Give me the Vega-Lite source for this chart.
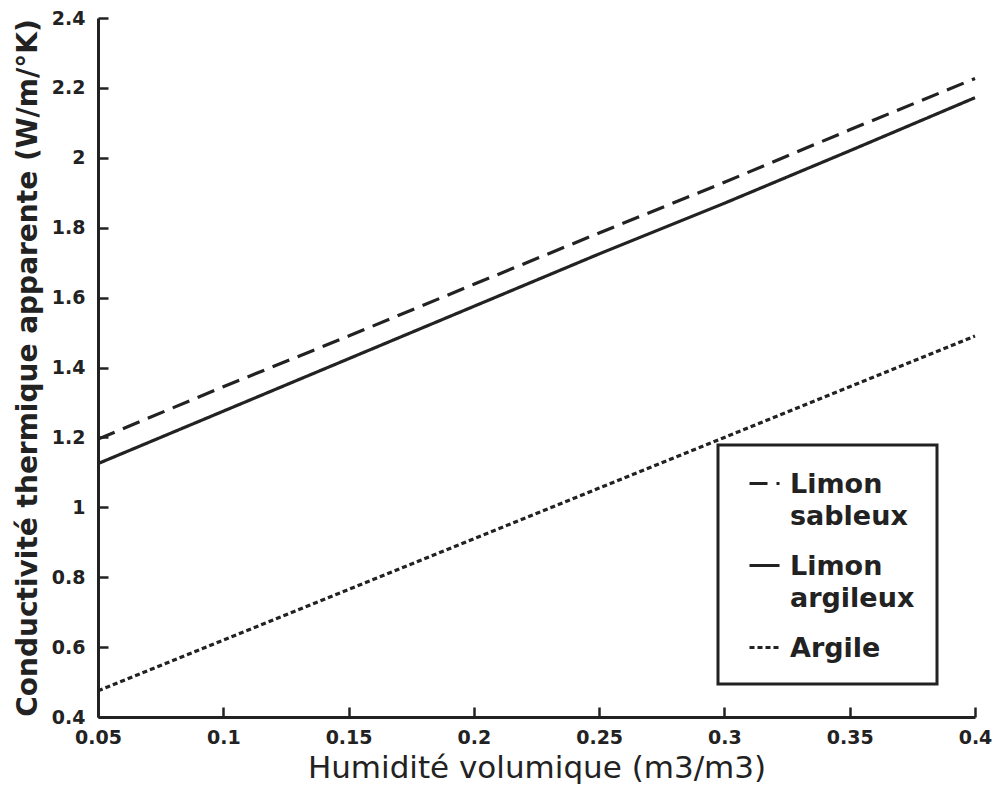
{
  "$schema": "https://vega.github.io/schema/vega-lite/v6.json",
  "autosize": "none",
  "width": 877,
  "height": 699,
  "padding": {"left": 98, "top": 18, "right": 18, "bottom": 75},
  "background": "white",
  "config": {
    "view": {"stroke": null},
    "axis": {
      "domainColor": "#222",
      "domainWidth": 3,
      "tickColor": "#222",
      "tickWidth": 2.5,
      "grid": false,
      "labelFont": "DejaVu Sans",
      "labelFontWeight": "bold",
      "labelFontSize": 19,
      "labelColor": "#222",
      "labelFlush": false,
      "titleFont": "DejaVu Sans",
      "titleColor": "#222",
      "titleFontWeight": "normal"
    }
  },
  "data": {
    "values": [
      {"h": 0.05, "k": 1.195, "sol": "Limon sableux"},
      {"h": 0.1, "k": 1.345, "sol": "Limon sableux"},
      {"h": 0.15, "k": 1.49, "sol": "Limon sableux"},
      {"h": 0.2, "k": 1.638, "sol": "Limon sableux"},
      {"h": 0.25, "k": 1.785, "sol": "Limon sableux"},
      {"h": 0.3, "k": 1.93, "sol": "Limon sableux"},
      {"h": 0.35, "k": 2.08, "sol": "Limon sableux"},
      {"h": 0.4, "k": 2.227, "sol": "Limon sableux"},
      {"h": 0.05, "k": 1.125, "sol": "Limon argileux"},
      {"h": 0.1, "k": 1.275, "sol": "Limon argileux"},
      {"h": 0.15, "k": 1.425, "sol": "Limon argileux"},
      {"h": 0.2, "k": 1.575, "sol": "Limon argileux"},
      {"h": 0.25, "k": 1.725, "sol": "Limon argileux"},
      {"h": 0.3, "k": 1.87, "sol": "Limon argileux"},
      {"h": 0.35, "k": 2.02, "sol": "Limon argileux"},
      {"h": 0.4, "k": 2.172, "sol": "Limon argileux"},
      {"h": 0.05, "k": 0.475, "sol": "Argile"},
      {"h": 0.1, "k": 0.62, "sol": "Argile"},
      {"h": 0.15, "k": 0.765, "sol": "Argile"},
      {"h": 0.2, "k": 0.91, "sol": "Argile"},
      {"h": 0.25, "k": 1.055, "sol": "Argile"},
      {"h": 0.3, "k": 1.2, "sol": "Argile"},
      {"h": 0.35, "k": 1.345, "sol": "Argile"},
      {"h": 0.4, "k": 1.49, "sol": "Argile"}
    ]
  },
  "mark": {"type": "line", "color": "#222", "strokeWidth": 3.2},
  "encoding": {
    "x": {
      "field": "h", "type": "quantitative",
      "scale": {"domain": [0.05, 0.4], "nice": false, "zero": false},
      "axis": {
        "values": [0.05, 0.1, 0.15, 0.2, 0.25, 0.3, 0.35, 0.4],
        "labelExpr": "format(datum.value, '.2~f')",
        "tickSize": -10,
        "labelPadding": 21,
        "title": "Humidité volumique (m3/m3)",
        "titleFontSize": 31,
        "titlePadding": 6
      }
    },
    "y": {
      "field": "k", "type": "quantitative",
      "scale": {"domain": [0.4, 2.4], "nice": false, "zero": false},
      "axis": {
        "values": [0.4, 0.6, 0.8, 1, 1.2, 1.4, 1.6, 1.8, 2, 2.2, 2.4],
        "labelExpr": "format(datum.value, '.1~f')",
        "tickSize": -10,
        "labelPadding": 23,
        "title": "Conductivité thermique apparente (W/m/°K)",
        "titleFontSize": 28,
        "titleFontWeight": "bold",
        "titlePadding": 9
      }
    },
    "detail": {"field": "sol"},
    "strokeDash": {
      "field": "sol", "type": "nominal",
      "scale": {
        "domain": ["Limon sableux", "Limon argileux", "Argile"],
        "range": [[18, 9], [1, 0], [5, 3]]
      },
      "legend": {
        "title": null,
        "orient": "none",
        "legendX": 620,
        "legendY": 427,
        "strokeColor": "#222",
        "padding": 22,
        "symbolType": "stroke",
        "symbolSize": 900,
        "symbolOffset": 8,
        "symbolStrokeWidth": 3,
        "symbolStrokeColor": "#222",
        "labelFont": "DejaVu Sans",
        "labelFontWeight": "bold",
        "labelFontSize": 27,
        "labelColor": "#222",
        "labelLimit": 0,
        "labelOffset": 9,
        "labelBaseline": "top",
        "labelExpr": "split(datum.label, ' ')",
        "rowPadding": 19,
        "encode": {
          "legend": {"update": {"strokeWidth": {"value": 3}}},
          "labels": {"update": {"lineHeight": {"value": 32}, "dy": {"value": -12}}}
        }
      }
    }
  }
}
